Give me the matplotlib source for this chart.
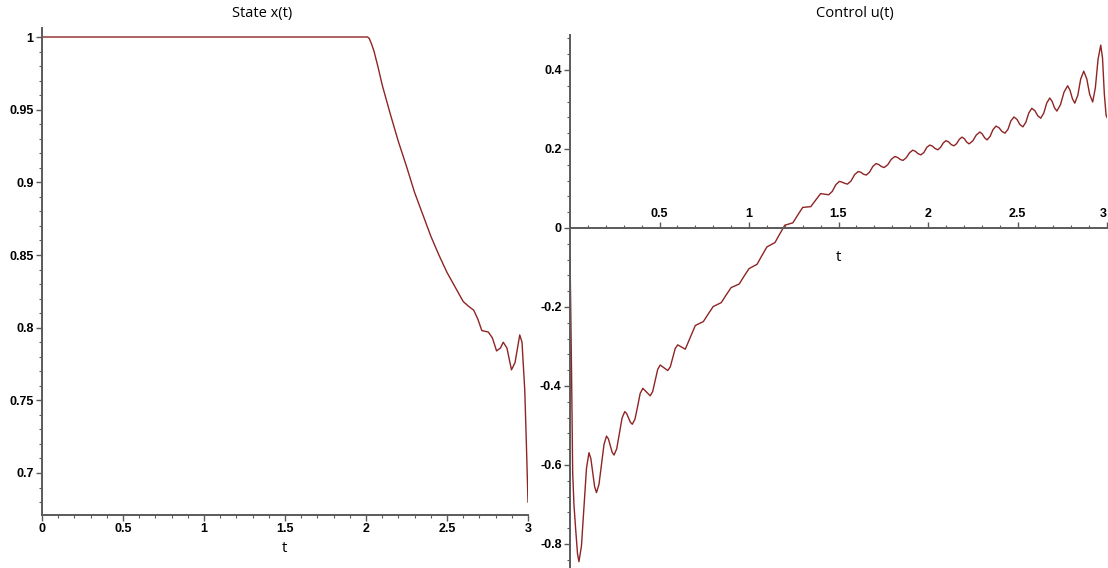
import numpy as np
import matplotlib.pyplot as plt
from matplotlib.ticker import MultipleLocator

plt.rcParams['axes.unicode_minus'] = False

# state x(t)
x_t = [0.0, 2.0, 2.01, 2.02, 2.035, 2.05, 2.075, 2.1, 2.15, 2.2, 2.25, 2.3, 2.35,
       2.4, 2.45, 2.5, 2.55, 2.6, 2.63, 2.665, 2.69, 2.715, 2.755, 2.78, 2.806,
       2.83, 2.847, 2.87, 2.898, 2.92, 2.949, 2.963, 2.98, 2.99, 3.0]
x_val = [1.0, 1.0, 1.0, 0.999, 0.995, 0.99, 0.979, 0.967, 0.947, 0.928, 0.911,
         0.893, 0.878, 0.863, 0.85, 0.838, 0.828, 0.818, 0.815, 0.812, 0.806,
         0.798, 0.797, 0.793, 0.784, 0.786, 0.790, 0.786, 0.771, 0.776, 0.795,
         0.79, 0.757, 0.72, 0.68]

# control u(t)
u_t = [0.0, 0.004, 0.009, 0.015, 0.022, 0.032, 0.042, 0.05,
       0.064, 0.078, 0.092, 0.106, 0.1165, 0.127, 0.1375, 0.148,
       0.162, 0.176, 0.19, 0.204, 0.2145, 0.225, 0.2355, 0.246,
       0.261, 0.276, 0.291, 0.306, 0.3165, 0.327, 0.3375, 0.348,
       0.363, 0.378, 0.392, 0.407, 0.4275, 0.448,
       0.462, 0.476, 0.49, 0.504, 0.525, 0.546,
       0.56, 0.574, 0.588, 0.602, 0.623, 0.644, 0.672, 0.70,
       0.745, 0.772, 0.80, 0.845, 0.872, 0.90, 0.945, 0.972, 1.0,
       1.045, 1.072, 1.10, 1.145, 1.172, 1.20, 1.245, 1.272, 1.30,
       1.345, 1.372, 1.40, 1.415, 1.43, 1.445, 1.465, 1.485,
       1.505, 1.52, 1.535, 1.55, 1.57, 1.59,
       1.61, 1.625, 1.64, 1.655, 1.673, 1.692,
       1.71, 1.725, 1.74, 1.755, 1.775, 1.795,
       1.815, 1.83, 1.845, 1.86, 1.878, 1.897,
       1.915, 1.93, 1.945, 1.96, 1.977, 1.993,
       2.01, 2.025, 2.04, 2.055, 2.07, 2.085,
       2.10, 2.115, 2.13, 2.145, 2.16, 2.175,
       2.19, 2.203, 2.217, 2.23, 2.25, 2.27,
       2.29, 2.303, 2.317, 2.33, 2.347, 2.363,
       2.38, 2.397, 2.413, 2.43, 2.447, 2.463,
       2.48, 2.497, 2.513, 2.53, 2.547, 2.563,
       2.58, 2.597, 2.613, 2.63, 2.647, 2.663,
       2.68, 2.693, 2.707, 2.72, 2.74, 2.76,
       2.78, 2.793, 2.807, 2.82, 2.837, 2.853,
       2.87, 2.887, 2.903, 2.92, 2.935, 2.95,
       2.965, 2.975, 2.985, 2.995, 3.0]
u_val = [-0.075, -0.2, -0.38, -0.62, -0.7, -0.765, -0.825, -0.845,
         -0.805, -0.707, -0.609, -0.569, -0.584, -0.6195, -0.655, -0.67,
         -0.649, -0.5985, -0.548, -0.527, -0.534, -0.551, -0.568, -0.575,
         -0.559, -0.52, -0.481, -0.465, -0.47, -0.481, -0.492, -0.497,
         -0.484, -0.4515, -0.419, -0.406, -0.4155, -0.425,
         -0.414, -0.386, -0.358, -0.347, -0.354, -0.361,
         -0.352, -0.3285, -0.305, -0.296, -0.3015, -0.307, -0.277, -0.247,
         -0.237, -0.218, -0.199, -0.189, -0.17, -0.151, -0.142, -0.1225, -0.103,
         -0.092, -0.07, -0.048, -0.037, -0.015, 0.007, 0.013, 0.0325, 0.052,
         0.054, 0.07, 0.087, 0.086, 0.085, 0.084, 0.0925, 0.1095,
         0.118, 0.116, 0.113, 0.111, 0.119, 0.135,
         0.143, 0.141, 0.136, 0.134, 0.141, 0.156,
         0.163, 0.1605, 0.1555, 0.153, 0.16, 0.174,
         0.181, 0.1785, 0.1735, 0.171, 0.1775, 0.1905,
         0.197, 0.194, 0.188, 0.185, 0.191, 0.204,
         0.21, 0.207, 0.201, 0.198, 0.204, 0.215,
         0.221, 0.218, 0.211, 0.208, 0.2135, 0.2245,
         0.23, 0.226, 0.217, 0.213, 0.2205, 0.2355,
         0.243, 0.238, 0.228, 0.223, 0.232, 0.249,
         0.258, 0.2535, 0.2445, 0.24, 0.25, 0.271,
         0.281, 0.275, 0.262, 0.256, 0.268, 0.291,
         0.303, 0.297, 0.284, 0.278, 0.291, 0.316,
         0.329, 0.321, 0.304, 0.296, 0.312, 0.344,
         0.36, 0.349, 0.327, 0.316, 0.336, 0.377,
         0.397, 0.3775, 0.3385, 0.319, 0.355, 0.427,
         0.463, 0.43, 0.34, 0.285, 0.28]

x_ticks = [0, 0.5, 1, 1.5, 2, 2.5, 3]
x_labels = ['0', '0.5', '1', '1.5', '2', '2.5', '3']
xs_ticks = [0.7, 0.75, 0.8, 0.85, 0.9, 0.95, 1.0]
xs_labels = ['0.7', '0.75', '0.8', '0.85', '0.9', '0.95', '1']
u_xticks = [0.5, 1, 1.5, 2, 2.5, 3]
u_xlabels = ['0.5', '1', '1.5', '2', '2.5', '3']
u_ticks = [-0.8, -0.6, -0.4, -0.2, 0, 0.2, 0.4]
u_labels = ['-0.8', '-0.6', '-0.4', '-0.2', '0', '0.2', '0.4']

line_col = '#8e2424'
axis_col = '#5a5a5a'
tick_font = dict(family='Liberation Sans', weight='bold', size=9)

W, H = 1108, 568
fig = plt.figure(figsize=(W / 100, H / 100), dpi=100)

# left panel: state
ax1 = fig.add_axes([42 / W, 1 - 515 / H, 486 / W, (515 - 28) / H])
ax1.plot(x_t, x_val, color=line_col, lw=1.0)
ax1.set_xlim(0, 3)
ax1.set_ylim(0.6711, 1.0062)
for s in ['top', 'right']:
    ax1.spines[s].set_visible(False)
for s in ['left', 'bottom']:
    ax1.spines[s].set_color(axis_col)
    ax1.spines[s].set_linewidth(1.4)
ax1.set_xticks(x_ticks)
ax1.set_xticklabels(x_labels, fontdict=tick_font)
ax1.set_yticks(xs_ticks)
ax1.set_yticklabels(xs_labels, fontdict=tick_font)
ax1.xaxis.set_minor_locator(MultipleLocator(0.1))
ax1.yaxis.set_minor_locator(MultipleLocator(0.01))
ax1.tick_params(which='major', length=4, width=1, color=axis_col, pad=2)
ax1.tick_params(which='minor', length=2, width=0.8, color=axis_col)
ax1.set_xlabel('t', family='Open Sans', size=11, labelpad=4)
ax1.patch.set_alpha(0)

# right panel: control, x axis through u = 0
ax2 = fig.add_axes([570 / W, 0, 537 / W, 1 - 35 / H])
ax2.plot(u_t, u_val, color=line_col, lw=1.0)
ax2.set_xlim(0, 3)
ax2.set_ylim(-0.861, 0.4886)
ax2.spines['right'].set_visible(False)
ax2.spines['bottom'].set_visible(False)
ax2.spines['top'].set_position(('data', 0))
for s in ['left', 'top']:
    ax2.spines[s].set_color(axis_col)
    ax2.spines[s].set_linewidth(1.4)
ax2.xaxis.set_ticks_position('top')
ax2.set_xticks(u_xticks)
ax2.set_xticklabels(u_xlabels, fontdict=tick_font)
ax2.get_xticklabels()[-1].set_ha('right')
ax2.set_yticks(u_ticks)
ax2.set_yticklabels(u_labels, fontdict=tick_font)
ax2.xaxis.set_minor_locator(MultipleLocator(0.1))
ax2.yaxis.set_minor_locator(MultipleLocator(0.04))
ax2.tick_params(axis='x', which='both', top=True, bottom=False,
                labeltop=True, labelbottom=False, direction='out')
ax2.tick_params(which='major', length=4, width=1, color=axis_col, pad=2)
ax2.tick_params(which='minor', length=2, width=0.8, color=axis_col)
ax2.text(1.5, -0.075, 't', family='Open Sans', size=11,
         ha='center', va='center')
ax2.patch.set_alpha(0)

fig.text(262 / W, 1 - 14 / H, 'State x(t)', family='Open Sans', size=10.5,
         ha='center', va='center')
fig.text(855 / W, 1 - 14 / H, 'Control u(t)', family='Open Sans', size=10.5,
         ha='center', va='center')

fig.savefig('out.png', dpi=100, facecolor='white')
